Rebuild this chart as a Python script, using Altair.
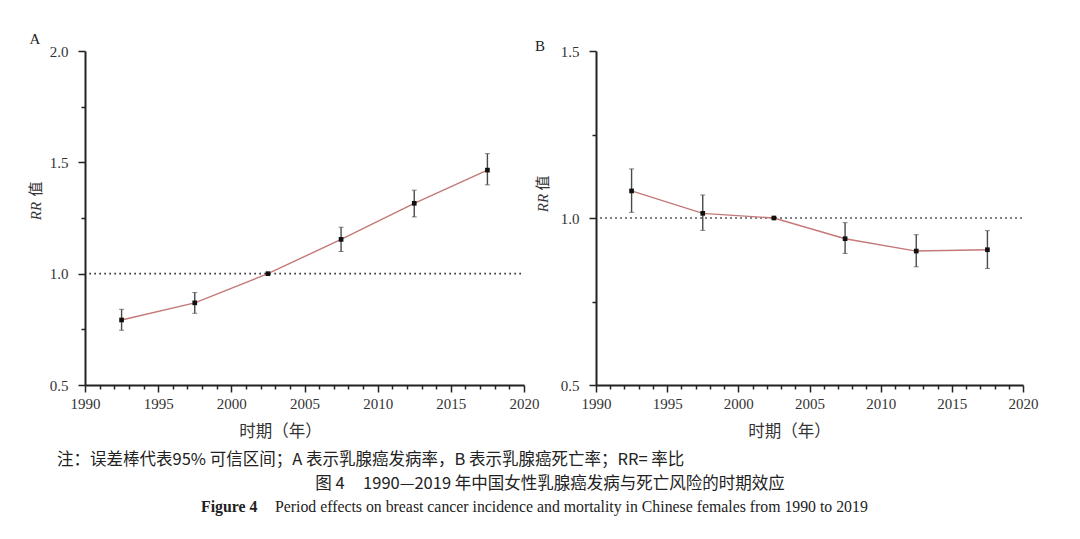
import altair as alt
import pandas as pd

# ---- data ----
years = [1992.5, 1997.5, 2002.5, 2007.5, 2012.5, 2017.5]
a_rr = [0.792, 0.869, 1.000, 1.154, 1.316, 1.465]
a_lo = [0.746, 0.822, 1.000, 1.100, 1.255, 1.399]
a_hi = [0.840, 0.915, 1.000, 1.208, 1.375, 1.539]
b_rr = [1.081, 1.014, 1.000, 0.938, 0.901, 0.905]
b_lo = [1.017, 0.963, 1.000, 0.894, 0.854, 0.849]
b_hi = [1.147, 1.069, 1.000, 0.986, 0.950, 0.962]

x_ticks = list(range(1990, 2021))
a_y_ticks = [0.5, 0.75, 1.0, 1.25, 1.5, 1.75, 2.0]
b_y_ticks = [0.5, 0.75, 1.0, 1.25, 1.5]

NB = "\u00a0"
note_text = "注：误差棒代表95%" + NB + "可信区间；A" + NB + "表示乳腺癌发病率，B" + NB + "表示乳腺癌死亡率；RR=" + NB + "率比"
fig_cn = "图" + NB + "4" + NB * 5 + "1990—2019" + NB + "年中国女性乳腺癌发病与死亡风险的时期效应"
fig_en_bold = "Figure 4"
fig_en = "Period effects on breast cancer incidence and mortality in Chinese females from 1990 to 2019"

SERIF = "Liberation Serif"
CJK = "Noto Sans CJK SC"
LINE_COLOR = "#c47878"
AXIS_COLOR = "#222222"


def x_axis(title_x):
    return alt.Axis(
        values=x_ticks,
        labelExpr="datum.value % 5 === 0 ? datum.value : ''",
        tickSize={"expr": "datum.value % 5 === 0 ? 7 : 4"},
        tickWidth=1.5,
        tickColor=AXIS_COLOR,
        domainColor=AXIS_COLOR,
        domainWidth=2,
        labelFont=SERIF,
        labelFontSize=15,
        labelColor="#333333",
        labelPadding=4,
        labelFlush=False,
        labelOverlap=False,
        grid=False,
        title="时期（年）",
        titleFont=CJK,
        titleFontSize=16.5,
        titleFontWeight="normal",
        titleColor="#333333",
        titleX=title_x,
        titleY=46,
        titleBaseline="middle",
        titleAlign="center",
    )


def y_axis(vals):
    return alt.Axis(
        values=vals,
        labelExpr="(datum.value * 4) % 2 === 0 ? format(datum.value, '.1f') : ''",
        tickSize={"expr": "(datum.value * 4) % 2 === 0 ? 7 : 4"},
        tickWidth=1.5,
        tickColor=AXIS_COLOR,
        domainColor=AXIS_COLOR,
        domainWidth=2,
        labelFont=SERIF,
        labelFontSize=15,
        labelColor="#333333",
        labelPadding=10,
        labelOverlap=False,
        labelFlush=False,
        grid=False,
        title=None,
    )


def panel(rr, lo, hi, ydomain, yvals, width, height, title_x, letter, letter_xy,
          rr_xy, zhi_xy, extra=None):
    df = pd.DataFrame({"year": years, "rr": rr, "lo": lo, "hi": hi})
    xs = alt.Scale(domain=[1990, 2020], nice=False, zero=False)
    ys = alt.Scale(domain=ydomain, nice=False, zero=False)
    X = alt.X("year:Q", scale=xs, axis=x_axis(title_x))
    base = alt.Chart(df)

    ref = alt.Chart(pd.DataFrame({"x": [1990.3], "x2": [2020], "y": [1.0]})).mark_rule(
        color="#222222", strokeDash=[1.5, 3.5], strokeWidth=1.6
    ).encode(
        x=alt.X("x:Q", scale=xs, axis=x_axis(title_x)),
        x2="x2:Q",
        y=alt.Y("y:Q", scale=ys, axis=y_axis(yvals)),
    )
    line = base.mark_line(color=LINE_COLOR, strokeWidth=1.4).encode(
        x=X, y=alt.Y("rr:Q", scale=ys, axis=y_axis(yvals))
    )
    bars = base.mark_rule(color="#4a4a4a", strokeWidth=1.4).encode(
        x=X, y=alt.Y("lo:Q", scale=ys), y2="hi:Q"
    )
    cap_lo = base.mark_tick(orient="horizontal", color="#4a4a4a", size=5, thickness=1).encode(
        x=X, y=alt.Y("lo:Q", scale=ys)
    )
    cap_hi = base.mark_tick(orient="horizontal", color="#4a4a4a", size=5, thickness=1).encode(
        x=X, y=alt.Y("hi:Q", scale=ys)
    )
    pts = base.mark_square(color="#111111", size=22, opacity=1).encode(
        x=X, y=alt.Y("rr:Q", scale=ys)
    )

    txt = pd.DataFrame({"t": [letter]})
    letter_mark = alt.Chart(txt).mark_text(
        font=SERIF, fontSize=15, color="#222222", align="center", baseline="middle"
    ).encode(text="t:N", x=alt.value(letter_xy[0]), y=alt.value(letter_xy[1]))
    rr_mark = alt.Chart(pd.DataFrame({"t": ["RR"]})).mark_text(
        font=SERIF, fontSize=15, fontStyle="italic", color="#333333", angle=270,
        align="center", baseline="middle"
    ).encode(text="t:N", x=alt.value(rr_xy[0]), y=alt.value(rr_xy[1]))
    zhi_mark = alt.Chart(pd.DataFrame({"t": ["值"]})).mark_text(
        font=CJK, fontSize=15, color="#333333", angle=270,
        align="center", baseline="middle"
    ).encode(text="t:N", x=alt.value(zhi_xy[0]), y=alt.value(zhi_xy[1]))

    layers = [ref, line, bars, cap_lo, cap_hi, pts, letter_mark, rr_mark, zhi_mark]
    if extra:
        layers += extra
    return alt.layer(*layers).properties(width=width, height=height)


# caption texts placed relative to panel A's plot area
cap1 = alt.Chart(pd.DataFrame({"t": [note_text]})).mark_text(
    font=CJK, fontSize=16.5, color="#222222", align="left", baseline="middle"
).encode(text="t:N", x=alt.value(-28), y=alt.value(409))
cap2 = alt.Chart(pd.DataFrame({"t": [fig_cn]})).mark_text(
    font=CJK, fontSize=16.5, color="#222222", align="center", baseline="middle"
).encode(text="t:N", x=alt.value(465), y=alt.value(433))
cap3a = alt.Chart(pd.DataFrame({"t": [fig_en_bold]})).mark_text(
    font=SERIF, fontSize=15.8, fontWeight="bold", color="#222222", align="left", baseline="middle"
).encode(text="t:N", x=alt.value(116), y=alt.value(456))
cap3b = alt.Chart(pd.DataFrame({"t": [fig_en]})).mark_text(
    font=SERIF, fontSize=15.8, color="#222222", align="left", baseline="middle"
).encode(text="t:N", x=alt.value(190), y=alt.value(456))

chart_a = panel(a_rr, a_lo, a_hi, [0.5, 2.0], a_y_ticks, 439, 334, 195, "A", (-50, -12),
                (-49, 160), (-49, 138), extra=[cap1, cap2, cap3a, cap3b])
chart_b = panel(b_rr, b_lo, b_hi, [0.5, 1.5], b_y_ticks, 427, 334, 193, "B", (-56, -5),
                (-53, 152), (-53, 132))

chart = alt.hconcat(chart_a, chart_b, spacing=72, bounds="flush").resolve_scale(
    x="independent", y="independent"
).configure_view(stroke=None).properties(
    padding={"left": 29, "top": 32, "right": 10, "bottom": 10},
    background="white",
)

chart.save("out.html", embed_options={"renderer": "svg", "actions": False})
